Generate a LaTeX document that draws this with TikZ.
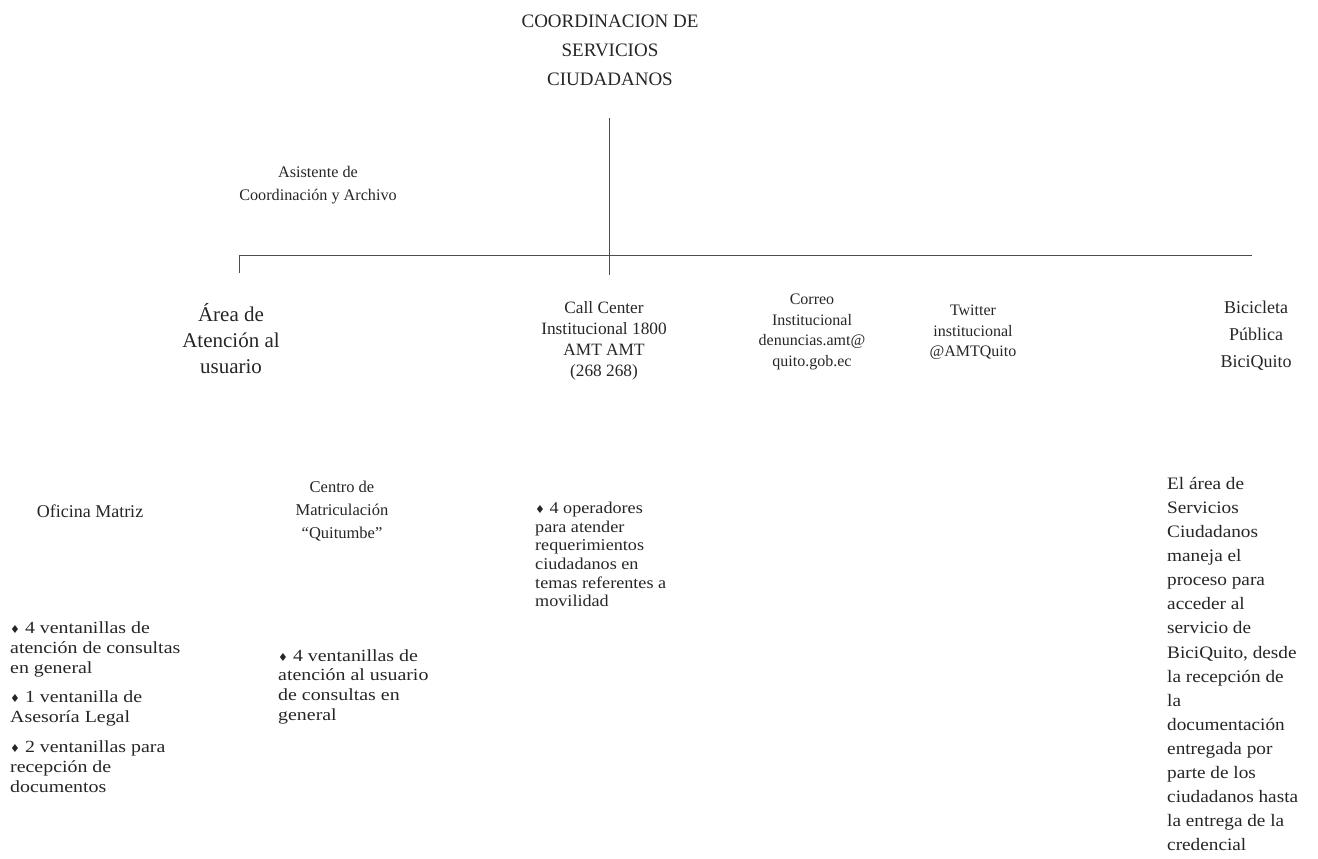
\documentclass[tikz,border=0pt]{standalone}
\usepackage{fontspec}
\setmainfont{Liberation Serif}
\newfontfamily\symfont{DejaVu Sans}
\newfontfamily\wideA[FakeStretch=1.17]{Liberation Serif}
\newfontfamily\wideB[FakeStretch=1.1]{Liberation Serif}
\newcommand{\dia}{{\symfont\fontsize{11}{11}\selectfont ♦}}
\tikzset{
  txt/.style={inner sep=0pt, text=black!85},
  ctr/.style={txt, anchor=north, align=center},
  lft/.style={txt, anchor=north west, align=left},
  conn/.style={draw=black!70, line width=0.9pt}
}
\begin{document}
\begin{tikzpicture}[x=1pt,y=-1pt]
\useasboundingbox (0,0) rectangle (1318,859);
% header
\node[ctr, font=\fontsize{19}{29}\selectfont] (title) at (610,15) {COORDINACION DE\\SERVICIOS\\CIUDADANOS};
\node[ctr, font=\fontsize{16.2}{23}\selectfont] (asist) at (318,166) {Asistente de\\Coordinación y Archivo};
% level 2
\node[ctr, font=\fontsize{21}{26}\selectfont] (area) at (231,303) {Área de\\Atención al\\usuario};
\node[ctr, font=\fontsize{17.3}{21}\selectfont] (call) at (604,301) {Call Center\\Institucional 1800\\AMT AMT\\(268 268)};
\node[ctr, font=\fontsize{16}{20.5}\selectfont] (correo) at (812,294) {Correo\\Institucional\\denuncias.amt@\\quito.gob.ec};
\node[ctr, font=\fontsize{16}{20.5}\selectfont] (twitter) at (973,305) {Twitter\\institucional\\@AMTQuito};
\node[ctr, font=\fontsize{18}{27}\selectfont] (bici) at (1256,301) {Bicicleta\\Pública\\BiciQuito};
% level 3
\node[ctr, font=\fontsize{18}{23}\selectfont] (matriz) at (90,505) {Oficina Matriz};
\node[ctr, font=\fontsize{16.5}{23}\selectfont] (quitumbe) at (342,481) {Centro de\\Matriculación\\“Quitumbe”};
\node[lft, font=\wideB\fontsize{16.5}{18.6}\selectfont] (ccdet) at (535,502) {\dia{} 4 operadores\\para atender\\requerimientos\\ciudadanos en\\temas referentes a\\movilidad};
\node[lft, font=\wideA\fontsize{17}{20}\selectfont] (matdet) at (10,621) {\dia{} 4 ventanillas de\\atención de consultas\\en general\\[9.5pt]\dia{} 1 ventanilla de\\Asesoría Legal\\[9.5pt]\dia{} 2 ventanillas para\\recepción de\\documentos};
\node[lft, font=\wideA\fontsize{17}{19.7}\selectfont] (quidet) at (278,649) {\dia{} 4 ventanillas de\\atención al usuario\\de consultas en\\general};
\node[lft, font=\wideB\fontsize{17.5}{24.1}\selectfont] (bicidet) at (1167,477) {El área de\\Servicios\\Ciudadanos\\maneja el\\proceso para\\acceder al\\servicio de\\BiciQuito, desde\\la recepción de\\la\\documentación\\entregada por\\parte de los\\ciudadanos hasta\\la entrega de la\\credencial};
% connectors
\coordinate (down) at (609,118);
\coordinate (cctop) at (609,275);
\coordinate (areatop) at (239,273);
\coordinate (hend) at (1252,255);
\draw[conn] (down) -- (cctop);
\draw[conn] (areatop) |- (hend);
\end{tikzpicture}
\end{document}
